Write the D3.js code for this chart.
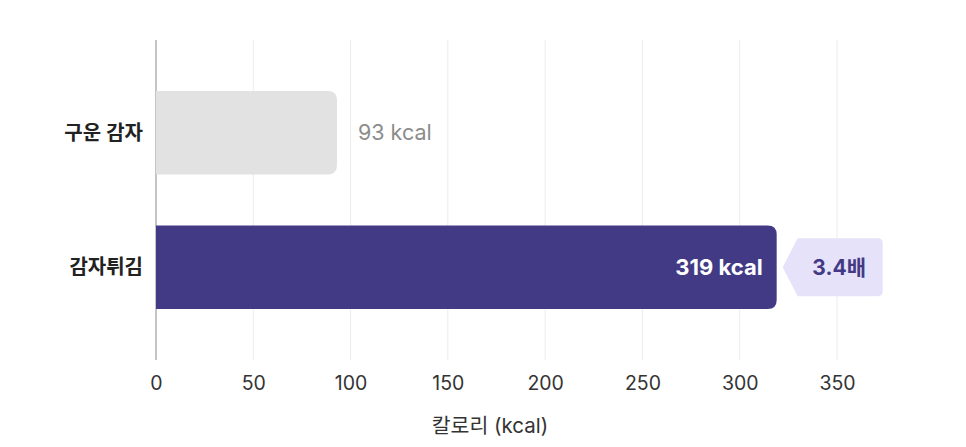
<!DOCTYPE html>
<html>
<head>
<meta charset="utf-8">
<script src="https://cdn.jsdelivr.net/npm/d3@7"></script>
<style>
  body { margin: 0; background: #fff; }
  text { font-family: "Inter", "Noto Sans CJK KR", sans-serif; }
</style>
</head>
<body>
<svg id="chart" width="966" height="447"></svg>
<script>
// Data
const categories = ["구운 감자", "감자튀김"];
const calories = [93, 319];
const xTicks = [0, 50, 100, 150, 200, 250, 300, 350];
const axisTitle = "칼로리 (kcal)";

const colors = {
  baked: "#e2e2e2",
  fries: "#433a85",
  grid: "#ececec",
  zero: "#8a8a8a",
  label: "#222",
  tick: "#333",
  muted: "#8c8c8c",
  badge: "#e6e2fa"
};

let svg = d3.select("#chart"),
  margin = { top: 40, right: 86, bottom: 87, left: 156 },
  width = +svg.attr("width") - margin.left - margin.right,
  height = +svg.attr("height") - margin.top - margin.bottom,
  g = svg.append("g").attr("transform", "translate(" + margin.left + "," + margin.top + ")");

let x = d3.scaleLinear().domain([0, 350]).range([0, 681]);
let y = d3.scaleBand().domain(categories).range([0, height]).paddingInner(0.38).paddingOuter(0.38);

// Gridlines
g.append("g")
  .selectAll("line")
  .data(xTicks)
  .join("line")
  .attr("x1", d => x(d)).attr("x2", d => x(d))
  .attr("y1", 0).attr("y2", height)
  .attr("stroke", d => d === 0 ? colors.zero : colors.grid)
  .attr("stroke-width", 1);

// X axis tick labels
let xAxis = g.append("g")
  .attr("transform", "translate(0," + height + ")")
  .call(d3.axisBottom(x).tickValues(xTicks).tickSize(0).tickPadding(16));
xAxis.select(".domain").remove();
xAxis.selectAll("text")
  .style("font-size", "19.5px")
  .style("fill", colors.tick)
  .style("font-family", "Inter, 'Noto Sans CJK KR', sans-serif");

// Axis title
g.append("text")
  .attr("x", 334)
  .attr("y", height + 73)
  .attr("text-anchor", "middle")
  .style("font-size", "20.5px")
  .style("fill", colors.tick)
  .text(axisTitle);

// Bars: square left, rounded right
function barPath(w, h, r) {
  return "M0,0H" + (w - r) + "Q" + w + ",0 " + w + "," + r +
    "V" + (h - r) + "Q" + w + "," + h + " " + (w - r) + "," + h + "H0Z";
}

let bars = g.append("g")
  .selectAll("g")
  .data(categories)
  .join("g")
  .attr("transform", d => "translate(0," + y(d) + ")");

bars.append("path")
  .attr("d", (d, i) => barPath(x(calories[i]), y.bandwidth(), 9))
  .attr("fill", (d, i) => i === 0 ? colors.baked : colors.fries);

// Category labels
bars.append("text")
  .attr("x", -13)
  .attr("y", y.bandwidth() / 2)
  .attr("dy", "0.35em")
  .attr("text-anchor", "end")
  .style("font-size", "20px")
  .style("font-weight", 600)
  .style("fill", colors.label)
  .text(d => d);

// Value labels
bars.append("text")
  .attr("x", (d, i) => i === 0 ? x(calories[i]) + 21 : x(calories[i]) - 14)
  .attr("y", y.bandwidth() / 2)
  .attr("dy", "0.35em")
  .attr("text-anchor", (d, i) => i === 0 ? "start" : "end")
  .style("font-size", (d, i) => i === 0 ? "21.5px" : "22px")
  .style("font-weight", (d, i) => i === 0 ? 400 : 700)
  .style("fill", (d, i) => i === 0 ? colors.muted : "#fff")
  .text((d, i) => calories[i] + " kcal");

// Ratio badge
let ratio = (calories[1] / calories[0]).toFixed(1) + "배";
let bx = x(calories[1]) + 6,
  bcy = y(categories[1]) + y.bandwidth() / 2,
  bh = 58, bw = 100, notch = 15, br = 5;
let badge = g.append("g").attr("transform", "translate(" + bx + "," + bcy + ")");
badge.append("path")
  .attr("d", "M0,0L" + notch + "," + (-bh / 2) + "H" + (bw - br) +
    "Q" + bw + "," + (-bh / 2) + " " + bw + "," + (-bh / 2 + br) +
    "V" + (bh / 2 - br) + "Q" + bw + "," + (bh / 2) + " " + (bw - br) + "," + (bh / 2) +
    "H" + notch + "Z")
  .attr("fill", colors.badge);
badge.append("text")
  .attr("x", notch + (bw - notch) / 2 - 1)
  .attr("dy", "0.35em")
  .attr("text-anchor", "middle")
  .style("font-size", "21px")
  .style("font-weight", 700)
  .style("fill", colors.fries)
  .text(ratio);
</script>
</body>
</html>
